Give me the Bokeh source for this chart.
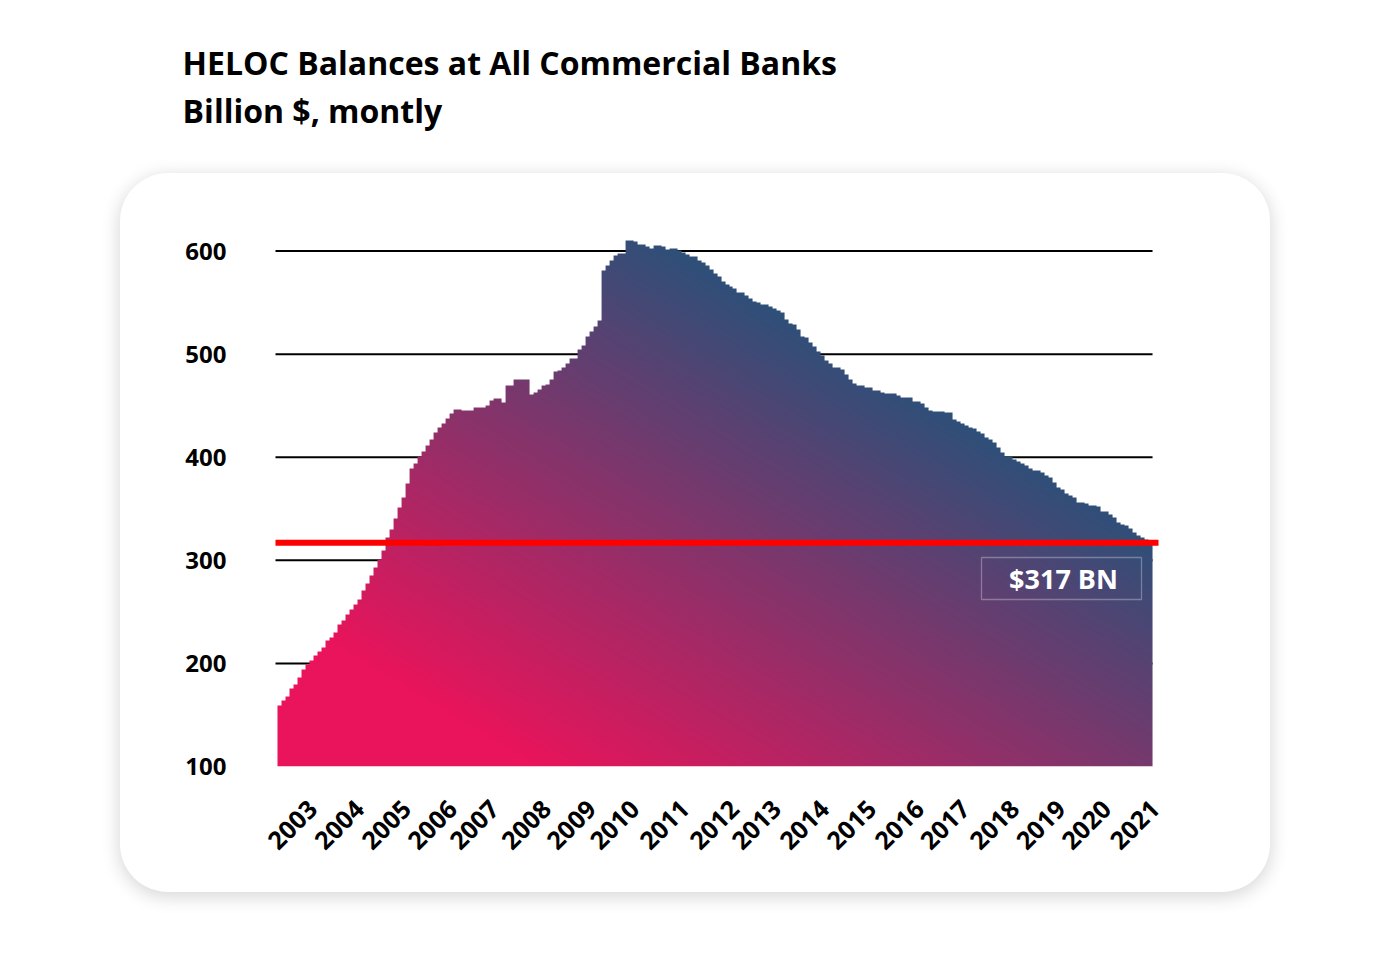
import numpy as np
from bokeh.plotting import figure
from bokeh.layouts import column
from bokeh.models import Range1d, FixedTicker, BoxAnnotation, Label
from bokeh.embed import file_html
from bokeh.resources import INLINE

# ---------------- data (monthly, Billion $) ----------------
heloc_balance = [
    159, 164, 168, 176, 180, 186, 194, 199, 203, 208, 212, 215,
    222, 225, 230, 238, 242, 247, 252, 257, 262, 271, 278, 285,
    293, 301, 310, 322, 330, 341, 351, 361, 375, 389, 394, 401,
    406, 411, 417, 424, 429, 433, 438, 442, 446, 446, 445, 445,
    445, 448, 448, 448, 450, 455, 457, 457, 453, 470, 470, 475,
    475, 475, 475, 461, 462.5, 466, 470, 471, 474.5, 482.5, 484, 487,
    491, 495.5, 496, 505, 508, 516.5, 522, 527, 533, 581, 586, 591,
    596, 597.5, 597.5, 610.4, 610.4, 609, 605.6, 605.6, 604, 603.3, 604.6, 605,
    604, 601.6, 603.3, 603.3, 601.3, 599, 596.8, 595.2, 595.2, 591, 588.7, 586.1,
    582.2, 578, 574.8, 570.6, 567.7, 566, 563.5, 559.6, 559.6, 557, 554.4, 551.2,
    549.5, 548.3, 548.3, 545.6, 544, 542.4, 539.8, 534.4, 530.1, 528.5, 523.7, 517.2,
    515.9, 511, 506.8, 502.6, 498.7, 493.9, 491.3, 486.8, 487.4, 484.9, 480.3, 475.1,
    471.8, 470.3, 470.3, 468, 468, 464.8, 464.8, 463.1, 461.6, 461.6, 461.6, 459.9,
    457.7, 457.7, 457.7, 454.1, 454.1, 451.8, 447.6, 445.3, 444.4, 444.4, 444.4, 442.7,
    442.7, 437.3, 434.7, 433, 430.8, 428.5, 427.6, 425.2, 422.7, 419.4, 416.9, 413.6,
    409.1, 404.9, 400.7, 400.7, 397.8, 395.8, 393.6, 392, 388.7, 387.1, 387.1, 385.4,
    382.2, 380, 375.7, 370.9, 368.6, 365.4, 362.8, 360.6, 356.3, 356.3, 354.8, 353.1,
    353.1, 351.5, 346.6, 346.6, 344.4, 341.7, 336.9, 335.3, 333.7, 330.5, 327.2, 324,
    322.3, 319.5, 317,
]
year_labels = ["2003", "2004", "2005", "2006", "2007", "2008", "2009", "2010", "2011",
               "2012", "2013", "2014", "2015", "2016", "2017", "2018", "2019", "2020", "2021"]
year_label_pos = [8.8, 20.5, 32.3, 43.8, 54.3, 67.3, 78.6, 89.4, 101.9, 114.4, 124.9,
                  136.9, 148.7, 160.7, 172.1, 184.5, 196.1, 207.5, 219.6]
y_ticks = [100, 200, 300, 400, 500, 600]
latest_value = 317
title_line1 = "HELOC Balances at All Commercial Banks"
title_line2 = "Billion $, montly"

FONT = "Open Sans"

CX, CY = 120, 173            # card position on the page
W, H = 1150, 719             # card size

# ---------------- title block ----------------
TW, TH = CX + W, CY
TITLE_X = 36                 # data x in the title block (its frame is aligned by the column layout)
TITLE_DY = -14
tp = figure(width=TW, height=TH, x_range=Range1d(0, TW), y_range=Range1d(TH, 0),
            x_axis_type=None, y_axis_type=None, output_backend="svg", toolbar_location=None,
            min_border_left=0, min_border_right=0, min_border_top=0, min_border_bottom=0)
tp.title.visible = False
tp.grid.visible = False
tp.outline_line_color = None
tp.background_fill_color = None
tp.border_fill_color = None
tp.margin = (0, 0, 0, 0)
tp.add_layout(Label(x=TITLE_X, y=76 + TITLE_DY, text=title_line1, text_align="left",
                    text_baseline="alphabetic", text_color="black", text_font=FONT,
                    text_font_style="bold", text_font_size="32px"))
tp.add_layout(Label(x=TITLE_X, y=124 + TITLE_DY, text=title_line2, text_align="left",
                    text_baseline="alphabetic", text_color="black", text_font=FONT,
                    text_font_style="bold", text_font_size="32px"))

# ---------------- card (chart) ----------------
ML, MT = 153, 57
FW, FH = 907, 536
MR, MB = W - ML - FW, H - MT - FH
X0, X1 = -1, 226
Y0, Y1 = 100, 620
ppx = FW / (X1 - X0)
ppy = FH / (Y1 - Y0)


def dx(px):
    return X0 + (px - CX - ML) / ppx


def dy(py):
    return Y0 + (CY + MT + FH - py) / ppy


p = figure(width=W, height=H, x_range=Range1d(X0, X1), y_range=Range1d(Y0, Y1),
           output_backend="svg", toolbar_location=None,
           min_border_left=ML, min_border_right=MR, min_border_top=MT, min_border_bottom=MB)
p.title.visible = False
p.xgrid.visible = False
p.ygrid.visible = False
p.outline_line_color = None
p.background_fill_color = None
p.border_fill_color = None
p.margin = (0, 0, 0, CX)
p.styles = {"background-color": "white", "border-radius": "48px",
            "box-shadow": "0px 4px 18px 1px rgba(0,0,0,0.16)"}

n = len(heloc_balance)

# grid lines (hidden behind the area)
grid_vals = [v for v in y_ticks if v > Y0]
p.segment(x0=-0.5, y0=grid_vals, x1=n, y1=grid_vals, line_color="black", line_width=2)

# gradient filled step area (bounding-box diagonal gradient, pink -> blue)
vals = np.array(heloc_balance, dtype=float)
rows = int(Y1 - Y0)
ys = Y0 + np.arange(rows) + 0.5
xs = np.arange(n) + 0.5
u = xs / n
v = (ys - Y0) / (vals.max() - Y0)
s = (u[None, :] + v[:, None]) / 2.0
s = np.clip((s - 0.15) / 0.57, 0, 1)
c_start = np.array([233, 20, 91], dtype=float)
c_end = np.array([46, 80, 121], dtype=float)
img = np.empty((rows, n), dtype=np.uint32)
view = img.view(dtype=np.uint8).reshape((rows, n, 4))
for c in range(3):
    view[:, :, c] = (c_start[c] + (c_end[c] - c_start[c]) * s).astype(np.uint8)
view[:, :, 3] = np.where(ys[:, None] <= vals[None, :], 255, 0).astype(np.uint8)
p.image_rgba(image=[img], x=0, y=Y0, dw=n, dh=rows)

# latest value marker
p.segment(x0=-0.5, y0=latest_value, x1=dx(1158), y1=latest_value, line_color="#FF0000", line_width=6)
p.add_layout(BoxAnnotation(left=dx(981), right=dx(1141), top=dy(557), bottom=dy(599),
                           fill_alpha=0, line_color="white", line_width=1.3, level="annotation"))
p.add_layout(Label(x=dx(1063), y=dy(578), text=f"${latest_value} BN", text_align="center",
                   text_baseline="middle", text_color="white", text_font=FONT,
                   text_font_style="bold", text_font_size="27px"))

# axes
for ax in (p.xaxis[0], p.yaxis[0]):
    ax.axis_line_color = None
    ax.major_tick_line_color = None
    ax.minor_tick_line_color = None
    ax.major_tick_in = 0
    ax.major_tick_out = 0
    ax.major_label_text_font = FONT
    ax.major_label_text_font_style = "bold"
    ax.major_label_text_color = "black"

p.yaxis.ticker = FixedTicker(ticks=y_ticks)
p.yaxis.major_label_standoff = 47
p.yaxis.major_label_text_font_size = "24px"

p.xaxis.ticker = FixedTicker(ticks=year_label_pos)
p.xaxis.major_label_overrides = dict(zip(year_label_pos, year_labels))
p.xaxis.major_label_orientation = np.pi / 4
p.xaxis.major_label_standoff = 38
p.xaxis.major_label_text_font_size = "25px"

layout = column(tp, p)
open("out.html", "w").write(file_html(layout, INLINE))
